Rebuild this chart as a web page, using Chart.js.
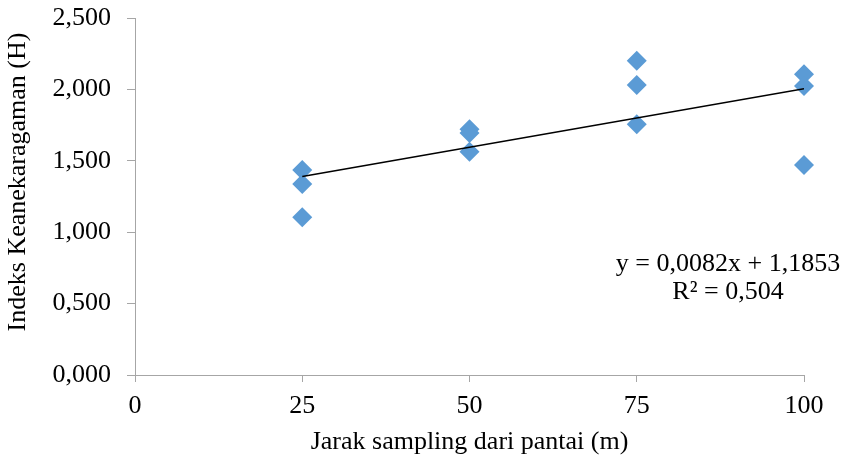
<!DOCTYPE html>
<html>
<head>
<meta charset="utf-8">
<script src="https://cdn.jsdelivr.net/npm/chart.js@4.4.1/dist/chart.umd.min.js"></script>
<style>
  html, body { margin: 0; padding: 0; background: #ffffff; }
  #wrap { width: 847px; height: 464px; position: relative; }
</style>
</head>
<body>
<div id="wrap"><canvas id="c" width="847" height="464"></canvas></div>
<script>
// ---- data ----
const distances = [25, 25, 25, 50, 50, 50, 75, 75, 75, 100, 100, 100];
const diversity = [1.436, 1.338, 1.104, 1.721, 1.695, 1.564, 2.201, 2.031, 1.756, 2.106, 2.024, 1.471];
const trendX = [25, 100];
const trendY = [1.3903, 2.0053];
const xTicks = [0, 25, 50, 75, 100];
const yTicks = [0, 0.5, 1.0, 1.5, 2.0, 2.5];
const xTitle = 'Jarak sampling dari pantai (m)';
const yTitle = 'Indeks Keanekaragaman (H)';
const equationText = 'y = 0,0082x + 1,1853';
const r2Text = 'R² = 0,504';

const FONT = '"Liberation Serif", "Times New Roman", serif';
const FS = 26;
const AXIS = '#A6A6A6';

const scatterPts = distances.map((x, i) => ({ x: x, y: diversity[i] }));
const trendPts = trendX.map((x, i) => ({ x: x, y: trendY[i] }));

const extraText = {
  id: 'extraText',
  afterDraw(chart) {
    const ctx = chart.ctx;
    const ca = chart.chartArea;
    ctx.save();
    ctx.fillStyle = '#000';
    ctx.font = FS + 'px ' + FONT;
    // y axis title
    ctx.save();
    ctx.translate(18, 182);
    ctx.rotate(-Math.PI / 2);
    ctx.textAlign = 'center';
    ctx.textBaseline = 'middle';
    ctx.fillText(yTitle, 0, 0);
    ctx.restore();
    // trendline equation
    ctx.textAlign = 'center';
    ctx.textBaseline = 'alphabetic';
    const cx = ca.right - 76;
    ctx.fillText(equationText, cx, 271);
    ctx.fillText(r2Text, cx, 299);
    ctx.restore();
  }
};

new Chart(document.getElementById('c'), {
  type: 'scatter',
  data: {
    datasets: [
      {
        type: 'line',
        data: trendPts,
        borderColor: '#000000',
        borderWidth: 1.5,
        pointRadius: 0,
        fill: false,
        tension: 0
      },
      {
        type: 'scatter',
        data: scatterPts,
        pointStyle: 'rectRot',
        pointRadius: 10,
        pointHoverRadius: 10,
        backgroundColor: '#5B9BD5',
        borderColor: '#5B9BD5',
        borderWidth: 0,
        clip: false
      }
    ]
  },
  options: {
    responsive: false,
    animation: false,
    devicePixelRatio: 1,
    layout: { padding: { top: 18, right: 43, bottom: 0, left: 0 } },
    plugins: {
      legend: { display: false },
      tooltip: { enabled: false }
    },
    scales: {
      x: {
        type: 'linear',
        min: 0,
        max: 100,
        afterBuildTicks: (s) => { s.ticks = xTicks.map(v => ({ value: v })); },
        afterFit: (s) => { s.height = 89; s.paddingLeft = 0; s.paddingRight = 0; },
        ticks: {
          color: '#000',
          font: { family: FONT, size: FS },
          padding: 9,
          callback: (v) => String(v)
        },
        grid: { drawOnChartArea: false, drawTicks: true, tickLength: 7, color: AXIS, lineWidth: 1 },
        border: { display: true, color: AXIS, width: 1 },
        title: {
          display: true,
          text: xTitle,
          color: '#000',
          font: { family: FONT, size: FS },
          padding: { top: 2, bottom: 6 }
        }
      },
      y: {
        type: 'linear',
        min: 0,
        max: 2.5,
        afterBuildTicks: (s) => { s.ticks = yTicks.map(v => ({ value: v })); },
        afterFit: (s) => { s.width = 135; s.paddingTop = 0; s.paddingBottom = 0; },
        ticks: {
          color: '#000',
          font: { family: FONT, size: FS },
          padding: 16,
          callback: (v) => Number(v).toFixed(3).replace('.', ',')
        },
        grid: { drawOnChartArea: false, drawTicks: true, tickLength: 8, color: AXIS, lineWidth: 1 },
        border: { display: true, color: AXIS, width: 1 }
      }
    }
  },
  plugins: [extraText]
});
</script>
</body>
</html>
